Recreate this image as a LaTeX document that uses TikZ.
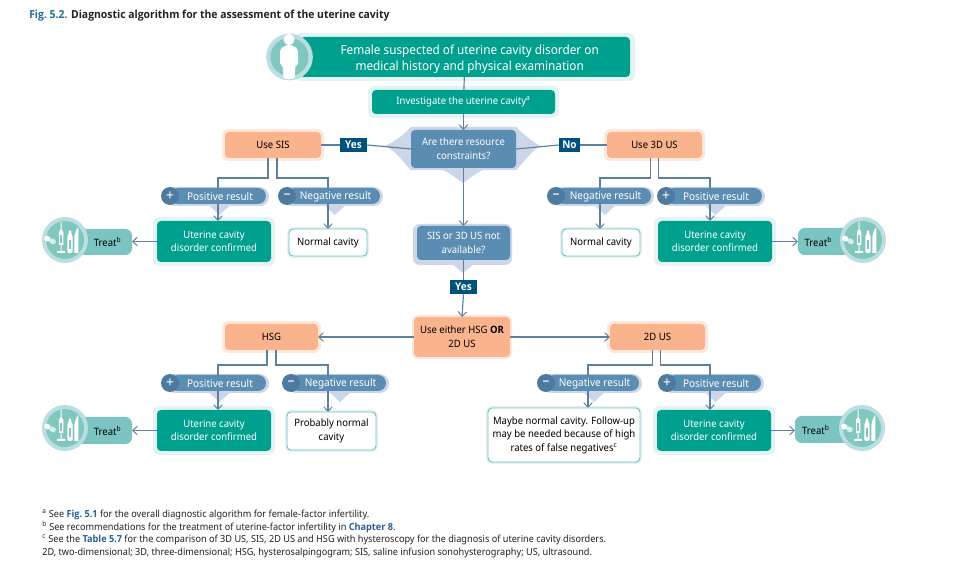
\documentclass[tikz,border=0pt]{standalone}
\usepackage{fontspec}
\setmainfont{Noto Sans}[FakeStretch=0.94,BoldFont={Open Sans Bold},BoldFeatures={FakeStretch=0.94}]
\usetikzlibrary{arrows.meta}
\pgfdeclarelayer{halolayer}
\pgfdeclarelayer{connlayer}
\pgfsetlayers{halolayer,connlayer,main}
\definecolor{teal}{HTML}{00A08F}
\definecolor{tealhalo}{HTML}{E3F4F2}
\definecolor{bluebox}{HTML}{5B8DB3}
\definecolor{bluehalo}{HTML}{CBD6E8}
\definecolor{bluedark}{HTML}{4E7A9F}
\definecolor{navy}{HTML}{00527C}
\definecolor{orangebox}{HTML}{F9B48D}
\definecolor{orangehalo}{HTML}{FDE8DB}
\definecolor{connc}{HTML}{5E7F9E}
\definecolor{treatbox}{HTML}{7CC4C2}
\definecolor{iconfill}{HTML}{80C8BE}
\definecolor{iconhalo}{HTML}{BBDEE4}
\definecolor{whitebd}{HTML}{6FBFBF}
\definecolor{titleblue}{HTML}{1F6C93}
\definecolor{linkblue}{HTML}{2B5F93}
\definecolor{bodytext}{HTML}{222222}
\newcommand{\pxfont}[2]{\fontsize{#1}{#2}\selectfont}
\tikzset{
 x=0.75pt,y=-0.75pt,
 base/.style={align=center,inner sep=0pt,outer sep=0pt,rounded corners=3pt,font=\pxfont{7.6}{10.2}},
 tealbox/.style={base,fill=teal,text=white},
 orbox/.style={base,fill=orangebox,text=black},
 blbox/.style={base,fill=bluebox,text=white},
 wbox/.style={base,fill=white,draw=whitebd,line width=0.7pt,text=black},
 trbox/.style={base,fill=treatbox,text=black,rounded corners=5pt},
 pillbox/.style={align=center,inner sep=0pt,outer sep=0pt,rounded corners=6pt,fill=bluebox,text=white,font=\pxfont{8}{10}},
 signc/.style={circle,fill=bluedark,text=white,inner sep=0pt,minimum size=13.5pt,font=\pxfont{11}{11}},
 tagbox/.style={fill=navy,text=white,inner sep=0pt,font=\pxfont{8}{10}\bfseries},
 conn/.style={draw=connc,line width=0.85pt},
 arr/.style={conn,-{Straight Barb[length=3.5pt,width=6.5pt,line width=0.7pt]}},
 foot/.style={anchor=west,inner sep=0pt,text=bodytext,font=\pxfont{7.3}{8}},
}
\newcommand{\BX}[7]{\node[#6,minimum width={((#4)-(#2))*0.75pt},minimum height={((#5)-(#3))*0.75pt}] (#1) at ({((#2)+(#4))/2},{((#3)+(#5))/2}) {#7};}
\newcommand{\HL}[6]{\begin{pgfonlayer}{halolayer}\fill[#6,rounded corners=5pt] (#2-#1,#3-#1) rectangle (#4+#1,#5+#1);\end{pgfonlayer}}
\newcommand{\Pill}[6]{%
 \begin{pgfonlayer}{halolayer}
 \fill[bluehalo,rounded corners=7pt] (#2+5,#4-9) rectangle (#3+3,#4+10);
 \fill[bluehalo] ({(#2+#3)/2-6},#4+8) -- ({(#2+#3)/2+18},#4+8) -- ({(#2+#3)/2+6},#4+19) -- cycle;
 \end{pgfonlayer}
 \BX{#1}{#2+9}{#4-8}{#3}{#4+8}{pillbox}{\rule{0pt}{7.5pt}\hspace*{3pt}#6}
 \node[signc] (#1s) at (#2+9,#4) {#5};}
\newcommand{\Icon}[3]{%
 \node[circle,fill=iconhalo,minimum size=34.5pt,inner sep=0pt] (#1) at (#2,#3) {};
 \begin{scope}[shift={(#2,#3)}]
 \fill[iconfill] (0,0) circle (19);
 \begin{scope}[rotate around={-28:(-15,0)}]
 \fill[white,rounded corners=1pt] (-21,-2.5) rectangle (-15,2.5);
 \fill[white!70!iconfill,rounded corners=1pt] (-15,-2.5) rectangle (-9,2.5);
 \end{scope}
 \fill[white] (-4.3,-18) -- (-3.5,-18) -- (-3.5,-11) -- (-1.7,-8) -- (-1.7,5) -- (-3.3,5) -- (-3.3,11) -- (0,11) -- (0,13) -- (-8,13) -- (-8,11) -- (-4.5,11) -- (-4.5,5) -- (-6,5) -- (-6,-8) -- (-4.3,-11) -- cycle;
 \fill[iconfill] (-4.7,-5) rectangle (-3,3);
 \fill[white,rounded corners=1pt] (2.3,13) -- (2.3,-4) -- (4,-7) -- (4,-10) -- (6,-10) -- (6,-7) -- (7.7,-4) -- (7.7,13) -- cycle;
 \fill[iconfill] (4,0) rectangle (6,9);
 \fill[white] (9.3,13) -- (9.3,-3) .. controls (10,-7) and (11.5,-11) .. (13.3,-13) -- (13.3,13) -- cycle;
 \end{scope}}
\newcommand{\Branch}[5]{\begin{pgfonlayer}{connlayer}\draw[arr] ([xshift=#2*0.75pt]#1.south) -- ++(0,#3) -| ([xshift=#5*0.75pt]#4.north);\end{pgfonlayer}}
\begin{document}
\begin{tikzpicture}
\useasboundingbox (0,0) rectangle (954,570);
\begin{pgfonlayer}{halolayer}\fill[white] (0,0) rectangle (954,570);\end{pgfonlayer}
\node[anchor=west,inner sep=0pt,font=\pxfont{8.3}{10}\bfseries] (title) at (29,16) {\textcolor{titleblue}{Fig.\ 5.2.} \textcolor{bodytext}{Diagnostic algorithm for the assessment of the uterine cavity}};
\HL{4}{298}{37}{631}{77}{tealhalo}
\BX{top}{300}{37}{630}{77}{tealbox,font=\pxfont{9.4}{12}}{\rule{0pt}{11pt}\hspace*{7pt}Female suspected of uterine cavity disorder on\\\hspace*{7pt}medical history and physical examination}
\node[circle,fill=iconhalo,minimum size=35pt,inner sep=0pt] (person) at (289.5,57) {};
\fill[iconfill] (289.5,57) circle (19);
\fill[white] (289,39.5) circle (5.5);
\fill[white,rounded corners=1.2pt] (287,44) -- (291,44) -- (291,46) -- (295,46.5) -- (298,50) -- (298,65) -- (295.5,65) -- (294.5,79) -- (283.5,79) -- (282.5,65) -- (280,65) -- (280,50) -- (283,46.5) -- (287,46) -- cycle;
\HL{4}{372}{90}{555}{114}{tealhalo}
\BX{inv}{372}{90}{555}{114}{tealbox}{Investigate the uterine cavity\textsuperscript{a}}
\begin{pgfonlayer}{halolayer}
\fill[bluehalo] (385,146) .. controls (398,140) and (405,133) .. (411,127) -- (516,127) .. controls (522,133) and (530,140) .. (540,146) .. controls (530,152) and (522,165) .. (516,170) -- (483,170) .. controls (478,172) and (470,178) .. (463,183) .. controls (456,178) and (448,172) .. (443,170) -- (411,170) .. controls (405,165) and (398,152) .. (385,146) -- cycle;
\end{pgfonlayer}
\BX{res}{411}{130}{516}{168}{blbox}{Are there resource\\constraints?}
\BX{sis}{225}{132}{321}{158}{orbox}{Use SIS}
\HL{3}{225}{132}{321}{158}{orangehalo}
\BX{us3}{607}{132}{702}{158}{orbox}{Use 3D US}
\HL{3}{607}{132}{702}{158}{orangehalo}
\BX{yes1}{340}{138}{367}{152}{tagbox}{Yes}
\BX{no1}{559}{138}{580}{152}{tagbox}{No}
\Pill{pa}{161}{266}{196}{+}{Positive result}
\Pill{na}{278}{380}{196}{–}{Negative result}
\HL{4}{157}{221}{271}{262}{tealhalo}
\BX{ca}{157}{221}{271}{262}{tealbox}{Uterine cavity\\disorder confirmed}
\BX{nca}{289}{229}{367}{256}{wbox}{Normal cavity}
\HL{2}{289}{229}{367}{256}{tealhalo}
\BX{ta}{70}{229}{132}{255}{trbox}{\hspace*{10pt}Treat\textsuperscript{b}}
\Icon{ia}{65}{240}
\Pill{nb}{547}{651}{196}{–}{Negative result}
\Pill{pb}{657}{762}{196}{+}{Positive result}
\BX{ncb}{562}{229}{640}{256}{wbox}{Normal cavity}
\HL{2}{562}{229}{640}{256}{tealhalo}
\HL{4}{658}{221}{772}{262}{tealhalo}
\BX{cb}{658}{221}{772}{262}{tealbox}{Uterine cavity\\disorder confirmed}
\BX{tb}{798}{228}{860}{255}{trbox}{\hspace*{-16pt}Treat\textsuperscript{b}}
\Icon{ib}{863}{240}
\begin{pgfonlayer}{halolayer}
\fill[bluehalo,rounded corners=5pt] (413,224) rectangle (512,265);
\fill[bluehalo] (452,264) -- (474,264) -- (463,273) -- cycle;
\end{pgfonlayer}
\BX{nav}{417}{226}{510}{260}{blbox}{SIS or 3D US not\\available?}
\BX{yes2}{450}{280}{477}{294}{tagbox}{Yes}
\HL{2}{414}{317}{510}{357}{orangehalo}
\BX{eit}{414}{317}{510}{357}{orbox}{Use either HSG \textbf{OR}\\2D US}
\BX{hsg}{225}{324}{318}{350}{orbox}{HSG}
\HL{3}{225}{324}{318}{350}{orangehalo}
\BX{us2}{610}{324}{705}{350}{orbox}{2D US}
\HL{3}{610}{324}{705}{350}{orangehalo}
\Pill{pc}{161}{266}{383}{+}{Positive result}
\Pill{nc}{282}{386}{383}{–}{Negative result}
\HL{4}{157}{410}{271}{451}{tealhalo}
\BX{cc}{157}{410}{271}{451}{tealbox}{Uterine cavity\\disorder confirmed}
\BX{ncc}{287}{412}{376}{450}{wbox}{Probably normal\\cavity}
\HL{2}{287}{412}{376}{450}{tealhalo}
\BX{tc}{70}{417}{132}{444}{trbox}{\hspace*{10pt}Treat\textsuperscript{b}}
\Icon{ic}{65}{428}
\Pill{nd}{537}{639}{383}{–}{Negative result}
\Pill{pd}{658}{761}{383}{+}{Positive result}
\HL{2}{488}{408}{640}{462}{tealhalo}
\BX{ncd}{488}{408}{640}{462}{wbox}{Maybe normal cavity. Follow-up\\may be needed because of high\\rates of false negatives\textsuperscript{c}}
\HL{4}{657}{410}{771}{451}{tealhalo}
\BX{cd}{657}{410}{771}{451}{tealbox}{Uterine cavity\\disorder confirmed}
\BX{td}{795}{416}{858}{443}{trbox}{\hspace*{-16pt}Treat\textsuperscript{b}}
\Icon{id}{862}{428}
\begin{pgfonlayer}{connlayer}
\draw[conn] (top) -- (inv);
\draw[arr] (inv) -- (res.north);
\draw[conn] (res.west) -- (yes1.east);
\draw[conn] (yes1.west) -- (sis.east);
\draw[conn] (res.east) -- (no1.west);
\draw[conn] (no1.east) -- (us3.west);
\draw[arr] (res.south) -- (nav.north);
\draw[conn] (nav.south) -- (yes2.north);
\draw[arr] (yes2.south) -- (eit.north);
\draw[arr] (eit.west) -- (hsg.east);
\draw[arr] (eit.east) -- (us2.west);
\draw[arr] (ca.west) -- (ca.west -| ta.east);
\draw[arr] (cb.east) -- (cb.east -| tb.west);
\draw[arr] (cc.west) -- (cc.west -| tc.east);
\draw[arr] (cd.east) -- (cd.east -| td.west);
\end{pgfonlayer}
\Branch{sis}{-5}{20}{ca}{4}
\Branch{sis}{4}{20}{nca}{0}
\Branch{us3}{-4}{20}{ncb}{-1}
\Branch{us3}{4}{20}{cb}{-5}
\Branch{hsg}{-4.5}{15}{cc}{4}
\Branch{hsg}{4.5}{15}{ncc}{-3.5}
\Branch{us2}{-5}{15}{ncd}{24}
\Branch{us2}{3}{15}{cd}{-4}
\node[foot] (f1) at (42,515) {\textsuperscript{a} See \textcolor{linkblue}{\textbf{Fig.\ 5.1}} for the overall diagnostic algorithm for female-factor infertility.};
\node[foot] (f2) at (42,527) {\textsuperscript{b} See recommendations for the treatment of uterine-factor infertility in \textcolor{linkblue}{\textbf{Chapter 8}}.};
\node[foot] (f3) at (42,539.5) {\textsuperscript{c} See the \textcolor{linkblue}{\textbf{Table 5.7}} for the comparison of 3D US, SIS, 2D US and HSG with hysteroscopy for the diagnosis of uterine cavity disorders.};
\node[foot] (f4) at (42,552.5) {2D, two-dimensional; 3D, three-dimensional; HSG, hysterosalpingogram; SIS, saline infusion sonohysterography; US, ultrasound.};
\end{tikzpicture}
\end{document}
